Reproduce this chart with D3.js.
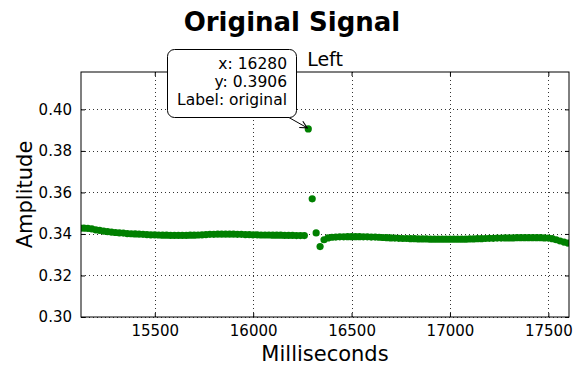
<!DOCTYPE html>
<html>
<head>
<meta charset="utf-8">
<script src="https://cdn.jsdelivr.net/npm/d3@7"></script>
<style>
  body { margin: 0; background: #fff; }
  svg text { font-family: "DejaVu Sans", sans-serif; fill: #000; }
</style>
</head>
<body>
<svg id="chart" width="574" height="365"></svg>
<script>
var times = [
  15120, 15140, 15160, 15180, 15200, 15220, 15240, 15260, 15280, 15300,
  15320, 15340, 15360, 15380, 15400, 15420, 15440, 15460, 15480, 15500,
  15520, 15540, 15560, 15580, 15600, 15620, 15640, 15660, 15680, 15700,
  15720, 15740, 15760, 15780, 15800, 15820, 15840, 15860, 15880, 15900,
  15920, 15940, 15960, 15980, 16000, 16020, 16040, 16060, 16080, 16100,
  16120, 16140, 16160, 16180, 16200, 16220, 16240, 16260, 16280, 16300,
  16320, 16340, 16360, 16380, 16400, 16420, 16440, 16460, 16480, 16500,
  16520, 16540, 16560, 16580, 16600, 16620, 16640, 16660, 16680, 16700,
  16720, 16740, 16760, 16780, 16800, 16820, 16840, 16860, 16880, 16900,
  16920, 16940, 16960, 16980, 17000, 17020, 17040, 17060, 17080, 17100,
  17120, 17140, 17160, 17180, 17200, 17220, 17240, 17260, 17280, 17300,
  17320, 17340, 17360, 17380, 17400, 17420, 17440, 17460, 17480, 17500,
  17520, 17540, 17560, 17580, 17600
];
var amplitudes = [
  0.3428, 0.3428, 0.3427, 0.3424, 0.3420, 0.3417, 0.3414, 0.3411, 0.3409, 0.3407,
  0.3405, 0.3404, 0.3402, 0.3401, 0.3400, 0.3399, 0.3398, 0.3397, 0.3396, 0.3396,
  0.3395, 0.3394, 0.3394, 0.3393, 0.3393, 0.3393, 0.3393, 0.3393, 0.3394, 0.3394,
  0.3395, 0.3396, 0.3397, 0.3398, 0.3398, 0.3399, 0.3399, 0.3399, 0.3399, 0.3399,
  0.3398, 0.3398, 0.3397, 0.3397, 0.3396, 0.3396, 0.3395, 0.3395, 0.3395, 0.3394,
  0.3394, 0.3394, 0.3393, 0.3393, 0.3393, 0.3392, 0.3392, 0.3392, 0.3906, 0.3569,
  0.3405, 0.3339, 0.3372, 0.3381, 0.3384, 0.3385, 0.3386, 0.3386, 0.3387, 0.3387,
  0.3387, 0.3387, 0.3386, 0.3386, 0.3385, 0.3385, 0.3384, 0.3383, 0.3382, 0.3381,
  0.3380, 0.3379, 0.3378, 0.3378, 0.3377, 0.3377, 0.3376, 0.3376, 0.3376, 0.3375,
  0.3375, 0.3375, 0.3375, 0.3375, 0.3375, 0.3375, 0.3375, 0.3375, 0.3375, 0.3376,
  0.3376, 0.3377, 0.3377, 0.3378, 0.3379, 0.3379, 0.3380, 0.3380, 0.3381, 0.3381,
  0.3381, 0.3382, 0.3382, 0.3382, 0.3382, 0.3382, 0.3382, 0.3382, 0.3381, 0.3380,
  0.3377, 0.3372, 0.3366, 0.3361, 0.3356
];
var xTicks = [15500, 16000, 16500, 17000, 17500];
var yTicks = [0.30, 0.32, 0.34, 0.36, 0.38, 0.40];
var xDomain = [15125, 17605];
var yDomain = [0.30, 0.418];
// the annotated point
var noteX = 16280;
var noteY = 0.3906;
var noteLines = ["x: 16280", "y: 0.3906", "Label: original"];

var svg = d3.select('#chart');
var plotLeft = 81, plotRight = 569, plotTop = 72, plotBottom = 317;
var xScale = d3.scaleLinear().domain(xDomain).range([plotLeft, plotRight]);
var yScale = d3.scaleLinear().domain(yDomain).range([plotBottom, plotTop]);

svg.append('clipPath').attr('id', 'plotClip')
    .append('rect')
    .attr('x', plotLeft).attr('y', plotTop)
    .attr('width', plotRight - plotLeft).attr('height', plotBottom - plotTop);

// dotted grid
var grid = svg.append('g').attr('stroke', '#000').attr('stroke-width', 0.8)
    .attr('stroke-dasharray', '1,3');
grid.selectAll('.gx').data(xTicks).enter().append('line')
    .attr('x1', function (d) { return Math.round(xScale(d)) + 0.5; })
    .attr('x2', function (d) { return Math.round(xScale(d)) + 0.5; })
    .attr('y1', plotTop).attr('y2', plotBottom);
grid.selectAll('.gy').data(yTicks).enter().append('line')
    .attr('y1', function (d) { return Math.round(yScale(d)) + 0.5; })
    .attr('y2', function (d) { return Math.round(yScale(d)) + 0.5; })
    .attr('x1', plotLeft).attr('x2', plotRight);

// axes with inward ticks on all four sides
var fmtX = d3.format('d');
var fmtY = d3.format('.2f');
var xAxisB = svg.append('g').attr('transform', 'translate(0,' + plotBottom + ')')
    .call(d3.axisBottom(xScale).tickValues(xTicks).tickFormat(fmtX).tickSizeInner(-4).tickSizeOuter(0).tickPadding(8));
var xAxisT = svg.append('g').attr('transform', 'translate(0,' + plotTop + ')')
    .call(d3.axisTop(xScale).tickValues(xTicks).tickFormat('').tickSizeInner(-4).tickSizeOuter(0));
var yAxisL = svg.append('g').attr('transform', 'translate(' + plotLeft + ',0)')
    .call(d3.axisLeft(yScale).tickValues(yTicks).tickFormat(fmtY).tickSizeInner(-4).tickSizeOuter(0).tickPadding(9));
var yAxisR = svg.append('g').attr('transform', 'translate(' + plotRight + ',0)')
    .call(d3.axisRight(yScale).tickValues(yTicks).tickFormat('').tickSizeInner(-4).tickSizeOuter(0));
[xAxisB, xAxisT, yAxisL, yAxisR].forEach(function (ax) {
    ax.select('.domain').remove();
    ax.selectAll('line').attr('stroke', '#000');
    ax.selectAll('text').style('font-family', '"DejaVu Sans", sans-serif').style('font-size', '15px').attr('fill', '#000');
});

// points
svg.append('g').attr('clip-path', 'url(#plotClip)')
    .selectAll('circle').data(times).enter().append('circle')
    .attr('cx', function (d) { return xScale(d); })
    .attr('cy', function (d, i) { return yScale(amplitudes[i]); })
    .attr('r', 3.6)
    .attr('fill', '#008000');

// frame
svg.append('rect')
    .attr('x', plotLeft).attr('y', plotTop)
    .attr('width', plotRight - plotLeft).attr('height', plotBottom - plotTop)
    .attr('fill', 'none').attr('stroke', '#000').attr('stroke-width', 1);

// titles and labels
svg.append('text').attr('x', 292).attr('y', 31).attr('text-anchor', 'middle')
    .style('font-size', '26px').style('font-weight', 'bold').text('Original Signal');
svg.append('text').attr('x', (plotLeft + plotRight) / 2).attr('y', 66).attr('text-anchor', 'middle')
    .style('font-size', '19px').text('Left');
svg.append('text').attr('x', (plotLeft + plotRight) / 2).attr('y', 361).attr('text-anchor', 'middle')
    .style('font-size', '21px').text('Milliseconds');
svg.append('text').attr('transform', 'translate(32,' + ((plotTop + plotBottom) / 2) + ') rotate(-90)')
    .attr('text-anchor', 'middle').style('font-size', '21px').text('Amplitude');

// annotation box with arrow
var px = xScale(noteX), py = yScale(noteY);
var defs = svg.append('defs');
defs.append('marker').attr('id', 'arrowHead')
    .attr('viewBox', '0 0 10 10').attr('refX', 9).attr('refY', 5)
    .attr('markerWidth', 9).attr('markerHeight', 9).attr('orient', 'auto')
    .attr('markerUnits', 'userSpaceOnUse')
    .append('path').attr('d', 'M1,1 L9,5 L1,9').attr('fill', 'none').attr('stroke', '#000').attr('stroke-width', 1.2);
svg.append('line')
    .attr('x1', 288).attr('y1', 117).attr('x2', px - 1).attr('y2', py - 1)
    .attr('stroke', '#000').attr('stroke-width', 1).attr('marker-end', 'url(#arrowHead)');
svg.append('rect')
    .attr('x', 167.5).attr('y', 49.5).attr('width', 129).attr('height', 68)
    .attr('rx', 7).attr('ry', 7)
    .attr('fill', '#fff').attr('stroke', '#000').attr('stroke-width', 1);
svg.selectAll('.note').data(noteLines).enter().append('text')
    .attr('x', 287).attr('y', function (d, i) { return 69 + i * 18; })
    .attr('text-anchor', 'end').style('font-size', '15.5px').text(function (d) { return d; });
</script>
</body>
</html>
